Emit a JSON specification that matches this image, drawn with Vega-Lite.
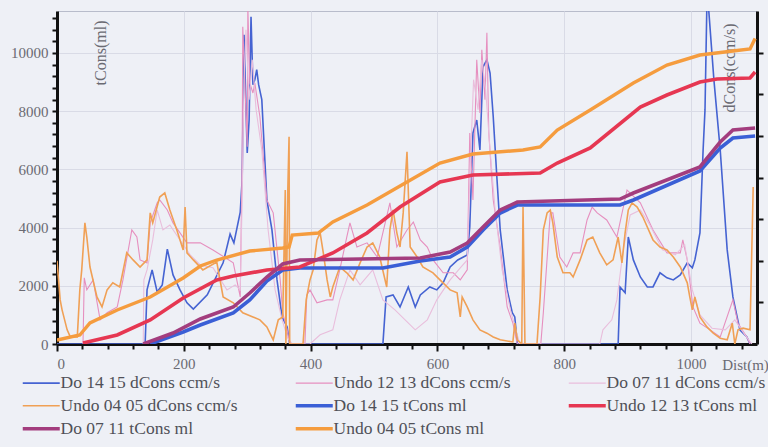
{
"$schema":"https://vega.github.io/schema/vega-lite/v6.json",
"width":700,"height":333,"autosize":"none",
"padding":{"left":57,"top":11,"right":11,"bottom":103},
"background":"#eef0f6",
"config":{"view":{"stroke":"#b8bccb","strokeWidth":1},"font":"Liberation Serif"},
"datasets":{
"d":[
{"s":"Do 14 15 dCons ccm/s","x":0,"v":0},{"s":"Do 14 15 dCons ccm/s","x":139,"v":0},{"s":"Do 14 15 dCons ccm/s","x":142,"v":1.30},{"s":"Do 14 15 dCons ccm/s","x":150,"v":1.78},{"s":"Do 14 15 dCons ccm/s","x":158,"v":1.25},{"s":"Do 14 15 dCons ccm/s","x":166,"v":1.42},{"s":"Do 14 15 dCons ccm/s","x":174,"v":2.28},{"s":"Do 14 15 dCons ccm/s","x":183,"v":1.66},{"s":"Do 14 15 dCons ccm/s","x":194,"v":1.30},{"s":"Do 14 15 dCons ccm/s","x":205,"v":0.99},{"s":"Do 14 15 dCons ccm/s","x":215,"v":0.84},{"s":"Do 14 15 dCons ccm/s","x":237,"v":1.18},{"s":"Do 14 15 dCons ccm/s","x":262,"v":1.95},{"s":"Do 14 15 dCons ccm/s","x":273,"v":2.64},{"s":"Do 14 15 dCons ccm/s","x":279,"v":2.43},{"s":"Do 14 15 dCons ccm/s","x":289,"v":3.17},{"s":"Do 14 15 dCons ccm/s","x":292,"v":3.94},{"s":"Do 14 15 dCons ccm/s","x":295,"v":7.43},{"s":"Do 14 15 dCons ccm/s","x":300,"v":4.59},{"s":"Do 14 15 dCons ccm/s","x":303,"v":5.38},{"s":"Do 14 15 dCons ccm/s","x":306,"v":7.86},{"s":"Do 14 15 dCons ccm/s","x":309,"v":6.23},{"s":"Do 14 15 dCons ccm/s","x":312,"v":6.35},{"s":"Do 14 15 dCons ccm/s","x":315,"v":6.59},{"s":"Do 14 15 dCons ccm/s","x":318,"v":6.23},{"s":"Do 14 15 dCons ccm/s","x":323,"v":5.87},{"s":"Do 14 15 dCons ccm/s","x":331,"v":3.46},{"s":"Do 14 15 dCons ccm/s","x":339,"v":2.74},{"s":"Do 14 15 dCons ccm/s","x":347,"v":1.54},{"s":"Do 14 15 dCons ccm/s","x":355,"v":0.65},{"s":"Do 14 15 dCons ccm/s","x":363,"v":0.41},{"s":"Do 14 15 dCons ccm/s","x":367,"v":0},{"s":"Do 14 15 dCons ccm/s","x":514,"v":0},{"s":"Do 14 15 dCons ccm/s","x":519,"v":1.13},{"s":"Do 14 15 dCons ccm/s","x":530,"v":1.18},{"s":"Do 14 15 dCons ccm/s","x":541,"v":0.89},{"s":"Do 14 15 dCons ccm/s","x":554,"v":1.37},{"s":"Do 14 15 dCons ccm/s","x":565,"v":0.89},{"s":"Do 14 15 dCons ccm/s","x":573,"v":1.18},{"s":"Do 14 15 dCons ccm/s","x":588,"v":1.37},{"s":"Do 14 15 dCons ccm/s","x":599,"v":1.30},{"s":"Do 14 15 dCons ccm/s","x":609,"v":1.47},{"s":"Do 14 15 dCons ccm/s","x":620,"v":1.85},{"s":"Do 14 15 dCons ccm/s","x":632,"v":2.02},{"s":"Do 14 15 dCons ccm/s","x":647,"v":2.14},{"s":"Do 14 15 dCons ccm/s","x":651,"v":2.81},{"s":"Do 14 15 dCons ccm/s","x":656,"v":5.07},{"s":"Do 14 15 dCons ccm/s","x":662,"v":5.38},{"s":"Do 14 15 dCons ccm/s","x":667,"v":4.66},{"s":"Do 14 15 dCons ccm/s","x":672,"v":6.66},{"s":"Do 14 15 dCons ccm/s","x":678,"v":6.83},{"s":"Do 14 15 dCons ccm/s","x":683,"v":6.51},{"s":"Do 14 15 dCons ccm/s","x":688,"v":5.46},{"s":"Do 14 15 dCons ccm/s","x":694,"v":3.94},{"s":"Do 14 15 dCons ccm/s","x":699,"v":2.74},{"s":"Do 14 15 dCons ccm/s","x":710,"v":1.30},{"s":"Do 14 15 dCons ccm/s","x":718,"v":0.75},{"s":"Do 14 15 dCons ccm/s","x":722,"v":0.65},{"s":"Do 14 15 dCons ccm/s","x":726,"v":0},{"s":"Do 14 15 dCons ccm/s","x":885,"v":0},{"s":"Do 14 15 dCons ccm/s","x":888,"v":1.37},{"s":"Do 14 15 dCons ccm/s","x":896,"v":1.23},{"s":"Do 14 15 dCons ccm/s","x":901,"v":2.57},{"s":"Do 14 15 dCons ccm/s","x":909,"v":2.02},{"s":"Do 14 15 dCons ccm/s","x":920,"v":1.61},{"s":"Do 14 15 dCons ccm/s","x":931,"v":1.37},{"s":"Do 14 15 dCons ccm/s","x":940,"v":1.37},{"s":"Do 14 15 dCons ccm/s","x":951,"v":1.71},{"s":"Do 14 15 dCons ccm/s","x":962,"v":1.59},{"s":"Do 14 15 dCons ccm/s","x":972,"v":1.54},{"s":"Do 14 15 dCons ccm/s","x":983,"v":1.66},{"s":"Do 14 15 dCons ccm/s","x":994,"v":1.95},{"s":"Do 14 15 dCons ccm/s","x":1002,"v":1.83},{"s":"Do 14 15 dCons ccm/s","x":1006,"v":2.02},{"s":"Do 14 15 dCons ccm/s","x":1014,"v":2.67},{"s":"Do 14 15 dCons ccm/s","x":1019,"v":4.66},{"s":"Do 14 15 dCons ccm/s","x":1022,"v":5.63},{"s":"Do 14 15 dCons ccm/s","x":1025,"v":8.2},{"s":"Do 14 15 dCons ccm/s","x":1027,"v":8.2},{"s":"Do 14 15 dCons ccm/s","x":1036,"v":6.35},{"s":"Do 14 15 dCons ccm/s","x":1046,"v":4.66},{"s":"Do 14 15 dCons ccm/s","x":1057,"v":2.26},{"s":"Do 14 15 dCons ccm/s","x":1066,"v":1.13},{"s":"Do 14 15 dCons ccm/s","x":1077,"v":0.34},{"s":"Do 14 15 dCons ccm/s","x":1088,"v":0.17},{"s":"Do 14 15 dCons ccm/s","x":1093,"v":0},

{"s":"Undo 12 13 dCons ccm/s","x":41,"v":0},{"s":"Undo 12 13 dCons ccm/s","x":43,"v":1.59},{"s":"Undo 12 13 dCons ccm/s","x":47,"v":1.30},{"s":"Undo 12 13 dCons ccm/s","x":57,"v":1.54},{"s":"Undo 12 13 dCons ccm/s","x":68,"v":0.58},{"s":"Undo 12 13 dCons ccm/s","x":79,"v":0.75},{"s":"Undo 12 13 dCons ccm/s","x":95,"v":0.89},{"s":"Undo 12 13 dCons ccm/s","x":104,"v":1.54},{"s":"Undo 12 13 dCons ccm/s","x":118,"v":2.74},{"s":"Undo 12 13 dCons ccm/s","x":126,"v":2.57},{"s":"Undo 12 13 dCons ccm/s","x":131,"v":2.02},{"s":"Undo 12 13 dCons ccm/s","x":142,"v":1.95},{"s":"Undo 12 13 dCons ccm/s","x":147,"v":2.91},{"s":"Undo 12 13 dCons ccm/s","x":158,"v":3.39},{"s":"Undo 12 13 dCons ccm/s","x":162,"v":3.46},{"s":"Undo 12 13 dCons ccm/s","x":174,"v":3.22},{"s":"Undo 12 13 dCons ccm/s","x":183,"v":2.91},{"s":"Undo 12 13 dCons ccm/s","x":205,"v":2.43},{"s":"Undo 12 13 dCons ccm/s","x":226,"v":2.43},{"s":"Undo 12 13 dCons ccm/s","x":246,"v":2.26},{"s":"Undo 12 13 dCons ccm/s","x":278,"v":1.95},{"s":"Undo 12 13 dCons ccm/s","x":289,"v":1.13},{"s":"Undo 12 13 dCons ccm/s","x":292,"v":4.42},{"s":"Undo 12 13 dCons ccm/s","x":293,"v":7.62},{"s":"Undo 12 13 dCons ccm/s","x":300,"v":4.74},{"s":"Undo 12 13 dCons ccm/s","x":301,"v":8.1},{"s":"Undo 12 13 dCons ccm/s","x":304,"v":6.27},{"s":"Undo 12 13 dCons ccm/s","x":309,"v":6.03},{"s":"Undo 12 13 dCons ccm/s","x":312,"v":6.27},{"s":"Undo 12 13 dCons ccm/s","x":320,"v":5.46},{"s":"Undo 12 13 dCons ccm/s","x":331,"v":3.46},{"s":"Undo 12 13 dCons ccm/s","x":341,"v":3.15},{"s":"Undo 12 13 dCons ccm/s","x":352,"v":1.54},{"s":"Undo 12 13 dCons ccm/s","x":356,"v":0.75},{"s":"Undo 12 13 dCons ccm/s","x":363,"v":0.34},{"s":"Undo 12 13 dCons ccm/s","x":367,"v":0},{"s":"Undo 12 13 dCons ccm/s","x":391,"v":0},{"s":"Undo 12 13 dCons ccm/s","x":394,"v":1.18},{"s":"Undo 12 13 dCons ccm/s","x":399,"v":1.30},{"s":"Undo 12 13 dCons ccm/s","x":410,"v":0.99},{"s":"Undo 12 13 dCons ccm/s","x":426,"v":1.06},{"s":"Undo 12 13 dCons ccm/s","x":435,"v":1.06},{"s":"Undo 12 13 dCons ccm/s","x":446,"v":1.78},{"s":"Undo 12 13 dCons ccm/s","x":457,"v":2.57},{"s":"Undo 12 13 dCons ccm/s","x":462,"v":2.91},{"s":"Undo 12 13 dCons ccm/s","x":473,"v":2.33},{"s":"Undo 12 13 dCons ccm/s","x":489,"v":2.43},{"s":"Undo 12 13 dCons ccm/s","x":505,"v":2.09},{"s":"Undo 12 13 dCons ccm/s","x":525,"v":3.39},{"s":"Undo 12 13 dCons ccm/s","x":536,"v":2.33},{"s":"Undo 12 13 dCons ccm/s","x":552,"v":2.74},{"s":"Undo 12 13 dCons ccm/s","x":562,"v":2.93},{"s":"Undo 12 13 dCons ccm/s","x":573,"v":2.50},{"s":"Undo 12 13 dCons ccm/s","x":584,"v":2.33},{"s":"Undo 12 13 dCons ccm/s","x":593,"v":2.02},{"s":"Undo 12 13 dCons ccm/s","x":609,"v":1.71},{"s":"Undo 12 13 dCons ccm/s","x":625,"v":1.71},{"s":"Undo 12 13 dCons ccm/s","x":636,"v":1.54},{"s":"Undo 12 13 dCons ccm/s","x":647,"v":1.78},{"s":"Undo 12 13 dCons ccm/s","x":651,"v":5.07},{"s":"Undo 12 13 dCons ccm/s","x":656,"v":3.46},{"s":"Undo 12 13 dCons ccm/s","x":662,"v":6.83},{"s":"Undo 12 13 dCons ccm/s","x":667,"v":5.55},{"s":"Undo 12 13 dCons ccm/s","x":670,"v":7.07},{"s":"Undo 12 13 dCons ccm/s","x":675,"v":5.87},{"s":"Undo 12 13 dCons ccm/s","x":678,"v":7.48},{"s":"Undo 12 13 dCons ccm/s","x":681,"v":5.07},{"s":"Undo 12 13 dCons ccm/s","x":688,"v":3.46},{"s":"Undo 12 13 dCons ccm/s","x":699,"v":2.33},{"s":"Undo 12 13 dCons ccm/s","x":710,"v":0.89},{"s":"Undo 12 13 dCons ccm/s","x":719,"v":0.50},{"s":"Undo 12 13 dCons ccm/s","x":726,"v":0},{"s":"Undo 12 13 dCons ccm/s","x":763,"v":0},{"s":"Undo 12 13 dCons ccm/s","x":767,"v":0.75},{"s":"Undo 12 13 dCons ccm/s","x":778,"v":3.15},{"s":"Undo 12 13 dCons ccm/s","x":782,"v":3.15},{"s":"Undo 12 13 dCons ccm/s","x":793,"v":2.09},{"s":"Undo 12 13 dCons ccm/s","x":804,"v":1.85},{"s":"Undo 12 13 dCons ccm/s","x":814,"v":2.19},{"s":"Undo 12 13 dCons ccm/s","x":825,"v":2.19},{"s":"Undo 12 13 dCons ccm/s","x":836,"v":2.98},{"s":"Undo 12 13 dCons ccm/s","x":844,"v":3.29},{"s":"Undo 12 13 dCons ccm/s","x":852,"v":3.15},{"s":"Undo 12 13 dCons ccm/s","x":867,"v":2.98},{"s":"Undo 12 13 dCons ccm/s","x":883,"v":2.57},{"s":"Undo 12 13 dCons ccm/s","x":899,"v":3.70},{"s":"Undo 12 13 dCons ccm/s","x":920,"v":3.39},{"s":"Undo 12 13 dCons ccm/s","x":940,"v":2.74},{"s":"Undo 12 13 dCons ccm/s","x":962,"v":2.19},{"s":"Undo 12 13 dCons ccm/s","x":983,"v":2.19},{"s":"Undo 12 13 dCons ccm/s","x":987,"v":2.50},{"s":"Undo 12 13 dCons ccm/s","x":994,"v":2.02},{"s":"Undo 12 13 dCons ccm/s","x":1003,"v":0.89},{"s":"Undo 12 13 dCons ccm/s","x":1014,"v":0.50},{"s":"Undo 12 13 dCons ccm/s","x":1030,"v":0.34},{"s":"Undo 12 13 dCons ccm/s","x":1046,"v":0.17},{"s":"Undo 12 13 dCons ccm/s","x":1066,"v":1.06},{"s":"Undo 12 13 dCons ccm/s","x":1074,"v":0.50},{"s":"Undo 12 13 dCons ccm/s","x":1088,"v":0.17},{"s":"Undo 12 13 dCons ccm/s","x":1093,"v":0},

{"s":"Do 07 11 dCons ccm/s","x":136,"v":0},{"s":"Do 07 11 dCons ccm/s","x":137,"v":1.54},{"s":"Do 07 11 dCons ccm/s","x":142,"v":1.78},{"s":"Do 07 11 dCons ccm/s","x":151,"v":2.50},{"s":"Do 07 11 dCons ccm/s","x":158,"v":3.22},{"s":"Do 07 11 dCons ccm/s","x":167,"v":2.74},{"s":"Do 07 11 dCons ccm/s","x":178,"v":2.86},{"s":"Do 07 11 dCons ccm/s","x":194,"v":2.50},{"s":"Do 07 11 dCons ccm/s","x":210,"v":2.14},{"s":"Do 07 11 dCons ccm/s","x":226,"v":1.90},{"s":"Do 07 11 dCons ccm/s","x":246,"v":1.83},{"s":"Do 07 11 dCons ccm/s","x":268,"v":1.30},{"s":"Do 07 11 dCons ccm/s","x":281,"v":1.42},{"s":"Do 07 11 dCons ccm/s","x":289,"v":1.30},{"s":"Do 07 11 dCons ccm/s","x":292,"v":3.46},{"s":"Do 07 11 dCons ccm/s","x":295,"v":6.35},{"s":"Do 07 11 dCons ccm/s","x":298,"v":7.55},{"s":"Do 07 11 dCons ccm/s","x":303,"v":5.87},{"s":"Do 07 11 dCons ccm/s","x":308,"v":6.83},{"s":"Do 07 11 dCons ccm/s","x":314,"v":5.63},{"s":"Do 07 11 dCons ccm/s","x":323,"v":4.66},{"s":"Do 07 11 dCons ccm/s","x":333,"v":2.74},{"s":"Do 07 11 dCons ccm/s","x":344,"v":1.30},{"s":"Do 07 11 dCons ccm/s","x":355,"v":0.58},{"s":"Do 07 11 dCons ccm/s","x":364,"v":0.14},{"s":"Do 07 11 dCons ccm/s","x":371,"v":0},{"s":"Do 07 11 dCons ccm/s","x":399,"v":0},{"s":"Do 07 11 dCons ccm/s","x":415,"v":0.22},{"s":"Do 07 11 dCons ccm/s","x":435,"v":0.34},{"s":"Do 07 11 dCons ccm/s","x":446,"v":1.06},{"s":"Do 07 11 dCons ccm/s","x":462,"v":1.78},{"s":"Do 07 11 dCons ccm/s","x":478,"v":1.42},{"s":"Do 07 11 dCons ccm/s","x":498,"v":1.78},{"s":"Do 07 11 dCons ccm/s","x":514,"v":1.06},{"s":"Do 07 11 dCons ccm/s","x":533,"v":0.82},{"s":"Do 07 11 dCons ccm/s","x":549,"v":0.58},{"s":"Do 07 11 dCons ccm/s","x":565,"v":0.34},{"s":"Do 07 11 dCons ccm/s","x":584,"v":0.58},{"s":"Do 07 11 dCons ccm/s","x":599,"v":1.06},{"s":"Do 07 11 dCons ccm/s","x":620,"v":1.54},{"s":"Do 07 11 dCons ccm/s","x":636,"v":1.83},{"s":"Do 07 11 dCons ccm/s","x":647,"v":2.02},{"s":"Do 07 11 dCons ccm/s","x":651,"v":3.94},{"s":"Do 07 11 dCons ccm/s","x":657,"v":6.35},{"s":"Do 07 11 dCons ccm/s","x":664,"v":5.63},{"s":"Do 07 11 dCons ccm/s","x":670,"v":6.83},{"s":"Do 07 11 dCons ccm/s","x":676,"v":6.11},{"s":"Do 07 11 dCons ccm/s","x":683,"v":4.66},{"s":"Do 07 11 dCons ccm/s","x":691,"v":3.22},{"s":"Do 07 11 dCons ccm/s","x":702,"v":1.78},{"s":"Do 07 11 dCons ccm/s","x":715,"v":0.82},{"s":"Do 07 11 dCons ccm/s","x":726,"v":0.22},{"s":"Do 07 11 dCons ccm/s","x":730,"v":0},{"s":"Do 07 11 dCons ccm/s","x":856,"v":0},{"s":"Do 07 11 dCons ccm/s","x":861,"v":0.34},{"s":"Do 07 11 dCons ccm/s","x":875,"v":0.58},{"s":"Do 07 11 dCons ccm/s","x":883,"v":1.06},{"s":"Do 07 11 dCons ccm/s","x":893,"v":2.26},{"s":"Do 07 11 dCons ccm/s","x":904,"v":3.10},{"s":"Do 07 11 dCons ccm/s","x":920,"v":3.22},{"s":"Do 07 11 dCons ccm/s","x":935,"v":2.86},{"s":"Do 07 11 dCons ccm/s","x":955,"v":2.26},{"s":"Do 07 11 dCons ccm/s","x":975,"v":2.14},{"s":"Do 07 11 dCons ccm/s","x":990,"v":2.38},{"s":"Do 07 11 dCons ccm/s","x":1002,"v":1.30},{"s":"Do 07 11 dCons ccm/s","x":1014,"v":0.70},{"s":"Do 07 11 dCons ccm/s","x":1033,"v":0.38},{"s":"Do 07 11 dCons ccm/s","x":1054,"v":0.34},{"s":"Do 07 11 dCons ccm/s","x":1069,"v":0.58},{"s":"Do 07 11 dCons ccm/s","x":1085,"v":0.22},{"s":"Do 07 11 dCons ccm/s","x":1096,"v":0},

{"s":"Undo 04 05 dCons ccm/s","x":0,"v":2.0},{"s":"Undo 04 05 dCons ccm/s","x":5,"v":1.06},{"s":"Undo 04 05 dCons ccm/s","x":8,"v":0.82},{"s":"Undo 04 05 dCons ccm/s","x":16,"v":0.34},{"s":"Undo 04 05 dCons ccm/s","x":21,"v":0.17},{"s":"Undo 04 05 dCons ccm/s","x":32,"v":0.17},{"s":"Undo 04 05 dCons ccm/s","x":36,"v":1.30},{"s":"Undo 04 05 dCons ccm/s","x":39,"v":1.78},{"s":"Undo 04 05 dCons ccm/s","x":44,"v":2.91},{"s":"Undo 04 05 dCons ccm/s","x":47,"v":2.57},{"s":"Undo 04 05 dCons ccm/s","x":52,"v":1.85},{"s":"Undo 04 05 dCons ccm/s","x":63,"v":1.13},{"s":"Undo 04 05 dCons ccm/s","x":71,"v":0.89},{"s":"Undo 04 05 dCons ccm/s","x":79,"v":1.30},{"s":"Undo 04 05 dCons ccm/s","x":88,"v":1.47},{"s":"Undo 04 05 dCons ccm/s","x":99,"v":1.37},{"s":"Undo 04 05 dCons ccm/s","x":110,"v":2.19},{"s":"Undo 04 05 dCons ccm/s","x":120,"v":2.02},{"s":"Undo 04 05 dCons ccm/s","x":131,"v":1.85},{"s":"Undo 04 05 dCons ccm/s","x":142,"v":2.02},{"s":"Undo 04 05 dCons ccm/s","x":147,"v":3.15},{"s":"Undo 04 05 dCons ccm/s","x":151,"v":2.91},{"s":"Undo 04 05 dCons ccm/s","x":162,"v":3.53},{"s":"Undo 04 05 dCons ccm/s","x":170,"v":3.63},{"s":"Undo 04 05 dCons ccm/s","x":178,"v":3.22},{"s":"Undo 04 05 dCons ccm/s","x":189,"v":2.74},{"s":"Undo 04 05 dCons ccm/s","x":199,"v":2.26},{"s":"Undo 04 05 dCons ccm/s","x":202,"v":3.29},{"s":"Undo 04 05 dCons ccm/s","x":205,"v":2.19},{"s":"Undo 04 05 dCons ccm/s","x":215,"v":2.02},{"s":"Undo 04 05 dCons ccm/s","x":230,"v":1.78},{"s":"Undo 04 05 dCons ccm/s","x":252,"v":1.97},{"s":"Undo 04 05 dCons ccm/s","x":262,"v":1.13},{"s":"Undo 04 05 dCons ccm/s","x":278,"v":0.99},{"s":"Undo 04 05 dCons ccm/s","x":293,"v":0.75},{"s":"Undo 04 05 dCons ccm/s","x":309,"v":0.65},{"s":"Undo 04 05 dCons ccm/s","x":320,"v":0.58},{"s":"Undo 04 05 dCons ccm/s","x":331,"v":0.41},{"s":"Undo 04 05 dCons ccm/s","x":341,"v":0.10},{"s":"Undo 04 05 dCons ccm/s","x":349,"v":0.58},{"s":"Undo 04 05 dCons ccm/s","x":356,"v":0.65},{"s":"Undo 04 05 dCons ccm/s","x":360,"v":3.70},{"s":"Undo 04 05 dCons ccm/s","x":361,"v":0},{"s":"Undo 04 05 dCons ccm/s","x":364,"v":3.70},{"s":"Undo 04 05 dCons ccm/s","x":366,"v":4.98},{"s":"Undo 04 05 dCons ccm/s","x":367,"v":0},{"s":"Undo 04 05 dCons ccm/s","x":388,"v":0},{"s":"Undo 04 05 dCons ccm/s","x":393,"v":1.06},{"s":"Undo 04 05 dCons ccm/s","x":399,"v":1.54},{"s":"Undo 04 05 dCons ccm/s","x":404,"v":1.78},{"s":"Undo 04 05 dCons ccm/s","x":410,"v":2.50},{"s":"Undo 04 05 dCons ccm/s","x":415,"v":2.67},{"s":"Undo 04 05 dCons ccm/s","x":420,"v":2.19},{"s":"Undo 04 05 dCons ccm/s","x":426,"v":1.54},{"s":"Undo 04 05 dCons ccm/s","x":431,"v":1.13},{"s":"Undo 04 05 dCons ccm/s","x":435,"v":1.37},{"s":"Undo 04 05 dCons ccm/s","x":446,"v":1.85},{"s":"Undo 04 05 dCons ccm/s","x":457,"v":1.71},{"s":"Undo 04 05 dCons ccm/s","x":467,"v":1.54},{"s":"Undo 04 05 dCons ccm/s","x":478,"v":1.95},{"s":"Undo 04 05 dCons ccm/s","x":489,"v":2.33},{"s":"Undo 04 05 dCons ccm/s","x":498,"v":2.43},{"s":"Undo 04 05 dCons ccm/s","x":509,"v":2.09},{"s":"Undo 04 05 dCons ccm/s","x":520,"v":1.37},{"s":"Undo 04 05 dCons ccm/s","x":525,"v":2.74},{"s":"Undo 04 05 dCons ccm/s","x":530,"v":3.22},{"s":"Undo 04 05 dCons ccm/s","x":536,"v":2.67},{"s":"Undo 04 05 dCons ccm/s","x":541,"v":2.33},{"s":"Undo 04 05 dCons ccm/s","x":546,"v":3.15},{"s":"Undo 04 05 dCons ccm/s","x":552,"v":4.62},{"s":"Undo 04 05 dCons ccm/s","x":557,"v":2.33},{"s":"Undo 04 05 dCons ccm/s","x":568,"v":2.09},{"s":"Undo 04 05 dCons ccm/s","x":577,"v":1.85},{"s":"Undo 04 05 dCons ccm/s","x":593,"v":1.71},{"s":"Undo 04 05 dCons ccm/s","x":604,"v":1.54},{"s":"Undo 04 05 dCons ccm/s","x":620,"v":1.30},{"s":"Undo 04 05 dCons ccm/s","x":631,"v":1.23},{"s":"Undo 04 05 dCons ccm/s","x":636,"v":0.65},{"s":"Undo 04 05 dCons ccm/s","x":639,"v":1.13},{"s":"Undo 04 05 dCons ccm/s","x":647,"v":0.89},{"s":"Undo 04 05 dCons ccm/s","x":656,"v":0.58},{"s":"Undo 04 05 dCons ccm/s","x":667,"v":0.34},{"s":"Undo 04 05 dCons ccm/s","x":678,"v":0.26},{"s":"Undo 04 05 dCons ccm/s","x":688,"v":0.17},{"s":"Undo 04 05 dCons ccm/s","x":699,"v":0.10},{"s":"Undo 04 05 dCons ccm/s","x":719,"v":0.05},{"s":"Undo 04 05 dCons ccm/s","x":722,"v":0.50},{"s":"Undo 04 05 dCons ccm/s","x":726,"v":0.10},{"s":"Undo 04 05 dCons ccm/s","x":733,"v":0},{"s":"Undo 04 05 dCons ccm/s","x":735,"v":3.29},{"s":"Undo 04 05 dCons ccm/s","x":738,"v":0},{"s":"Undo 04 05 dCons ccm/s","x":757,"v":0},{"s":"Undo 04 05 dCons ccm/s","x":762,"v":1.13},{"s":"Undo 04 05 dCons ccm/s","x":767,"v":2.74},{"s":"Undo 04 05 dCons ccm/s","x":773,"v":3.15},{"s":"Undo 04 05 dCons ccm/s","x":778,"v":3.22},{"s":"Undo 04 05 dCons ccm/s","x":782,"v":2.91},{"s":"Undo 04 05 dCons ccm/s","x":789,"v":2.09},{"s":"Undo 04 05 dCons ccm/s","x":798,"v":1.71},{"s":"Undo 04 05 dCons ccm/s","x":809,"v":1.71},{"s":"Undo 04 05 dCons ccm/s","x":814,"v":1.61},{"s":"Undo 04 05 dCons ccm/s","x":825,"v":2.02},{"s":"Undo 04 05 dCons ccm/s","x":836,"v":2.50},{"s":"Undo 04 05 dCons ccm/s","x":845,"v":2.57},{"s":"Undo 04 05 dCons ccm/s","x":856,"v":2.19},{"s":"Undo 04 05 dCons ccm/s","x":867,"v":1.90},{"s":"Undo 04 05 dCons ccm/s","x":877,"v":2.02},{"s":"Undo 04 05 dCons ccm/s","x":885,"v":2.57},{"s":"Undo 04 05 dCons ccm/s","x":891,"v":1.95},{"s":"Undo 04 05 dCons ccm/s","x":896,"v":2.67},{"s":"Undo 04 05 dCons ccm/s","x":901,"v":3.22},{"s":"Undo 04 05 dCons ccm/s","x":907,"v":3.39},{"s":"Undo 04 05 dCons ccm/s","x":915,"v":3.29},{"s":"Undo 04 05 dCons ccm/s","x":924,"v":3.05},{"s":"Undo 04 05 dCons ccm/s","x":940,"v":2.50},{"s":"Undo 04 05 dCons ccm/s","x":951,"v":2.33},{"s":"Undo 04 05 dCons ccm/s","x":962,"v":2.26},{"s":"Undo 04 05 dCons ccm/s","x":972,"v":2.09},{"s":"Undo 04 05 dCons ccm/s","x":983,"v":1.85},{"s":"Undo 04 05 dCons ccm/s","x":994,"v":1.47},{"s":"Undo 04 05 dCons ccm/s","x":998,"v":1.13},{"s":"Undo 04 05 dCons ccm/s","x":1002,"v":0.82},{"s":"Undo 04 05 dCons ccm/s","x":1006,"v":1.13},{"s":"Undo 04 05 dCons ccm/s","x":1014,"v":0.65},{"s":"Undo 04 05 dCons ccm/s","x":1025,"v":0.41},{"s":"Undo 04 05 dCons ccm/s","x":1035,"v":0.26},{"s":"Undo 04 05 dCons ccm/s","x":1046,"v":0.14},{"s":"Undo 04 05 dCons ccm/s","x":1057,"v":0.10},{"s":"Undo 04 05 dCons ccm/s","x":1065,"v":0.50},{"s":"Undo 04 05 dCons ccm/s","x":1069,"v":0},{"s":"Undo 04 05 dCons ccm/s","x":1074,"v":0.34},{"s":"Undo 04 05 dCons ccm/s","x":1082,"v":0.38},{"s":"Undo 04 05 dCons ccm/s","x":1093,"v":0.34},{"s":"Undo 04 05 dCons ccm/s","x":1098,"v":3.77}
],
"t":[
{"s":"Do 14 15 tCons ml","x":147,"v":0},{"s":"Do 14 15 tCons ml","x":199,"v":412},{"s":"Do 14 15 tCons ml","x":226,"v":653},{"s":"Do 14 15 tCons ml","x":278,"v":1065},{"s":"Do 14 15 tCons ml","x":304,"v":1512},{"s":"Do 14 15 tCons ml","x":331,"v":2165},{"s":"Do 14 15 tCons ml","x":356,"v":2543},{"s":"Do 14 15 tCons ml","x":383,"v":2611},{"s":"Do 14 15 tCons ml","x":514,"v":2611},{"s":"Do 14 15 tCons ml","x":573,"v":2852},{"s":"Do 14 15 tCons ml","x":620,"v":2989},{"s":"Do 14 15 tCons ml","x":647,"v":3333},{"s":"Do 14 15 tCons ml","x":672,"v":3917},{"s":"Do 14 15 tCons ml","x":699,"v":4501},{"s":"Do 14 15 tCons ml","x":726,"v":4776},{"s":"Do 14 15 tCons ml","x":888,"v":4776},{"s":"Do 14 15 tCons ml","x":909,"v":4948},{"s":"Do 14 15 tCons ml","x":1014,"v":5944},{"s":"Do 14 15 tCons ml","x":1046,"v":6735},{"s":"Do 14 15 tCons ml","x":1066,"v":7078},{"s":"Do 14 15 tCons ml","x":1101,"v":7147},
{"s":"Undo 12 13 tCons ml","x":41,"v":34},{"s":"Undo 12 13 tCons ml","x":95,"v":309},{"s":"Undo 12 13 tCons ml","x":147,"v":825},{"s":"Undo 12 13 tCons ml","x":199,"v":1581},{"s":"Undo 12 13 tCons ml","x":252,"v":2199},{"s":"Undo 12 13 tCons ml","x":278,"v":2336},{"s":"Undo 12 13 tCons ml","x":331,"v":2543},{"s":"Undo 12 13 tCons ml","x":383,"v":2646},{"s":"Undo 12 13 tCons ml","x":435,"v":3127},{"s":"Undo 12 13 tCons ml","x":489,"v":3814},{"s":"Undo 12 13 tCons ml","x":541,"v":4707},{"s":"Undo 12 13 tCons ml","x":604,"v":5566},{"s":"Undo 12 13 tCons ml","x":656,"v":5807},{"s":"Undo 12 13 tCons ml","x":762,"v":5876},{"s":"Undo 12 13 tCons ml","x":789,"v":6219},{"s":"Undo 12 13 tCons ml","x":841,"v":6735},{"s":"Undo 12 13 tCons ml","x":920,"v":8143},{"s":"Undo 12 13 tCons ml","x":962,"v":8556},{"s":"Undo 12 13 tCons ml","x":1014,"v":9002},{"s":"Undo 12 13 tCons ml","x":1041,"v":9105},{"s":"Undo 12 13 tCons ml","x":1093,"v":9140},{"s":"Undo 12 13 tCons ml","x":1101,"v":9346},
{"s":"Do 07 11 tCons ml","x":136,"v":0},{"s":"Do 07 11 tCons ml","x":183,"v":378},{"s":"Do 07 11 tCons ml","x":226,"v":859},{"s":"Do 07 11 tCons ml","x":278,"v":1271},{"s":"Do 07 11 tCons ml","x":304,"v":1752},{"s":"Do 07 11 tCons ml","x":331,"v":2302},{"s":"Do 07 11 tCons ml","x":356,"v":2749},{"s":"Do 07 11 tCons ml","x":383,"v":2886},{"s":"Do 07 11 tCons ml","x":573,"v":2955},{"s":"Do 07 11 tCons ml","x":620,"v":3161},{"s":"Do 07 11 tCons ml","x":647,"v":3470},{"s":"Do 07 11 tCons ml","x":672,"v":4020},{"s":"Do 07 11 tCons ml","x":699,"v":4604},{"s":"Do 07 11 tCons ml","x":726,"v":4879},{"s":"Do 07 11 tCons ml","x":888,"v":4982},{"s":"Do 07 11 tCons ml","x":909,"v":5188},{"s":"Do 07 11 tCons ml","x":1014,"v":6082},{"s":"Do 07 11 tCons ml","x":1046,"v":6941},{"s":"Do 07 11 tCons ml","x":1066,"v":7353},{"s":"Do 07 11 tCons ml","x":1101,"v":7422},
{"s":"Undo 04 05 tCons ml","x":0,"v":137},{"s":"Undo 04 05 tCons ml","x":36,"v":309},{"s":"Undo 04 05 tCons ml","x":52,"v":722},{"s":"Undo 04 05 tCons ml","x":95,"v":1168},{"s":"Undo 04 05 tCons ml","x":147,"v":1615},{"s":"Undo 04 05 tCons ml","x":199,"v":2268},{"s":"Undo 04 05 tCons ml","x":226,"v":2680},{"s":"Undo 04 05 tCons ml","x":252,"v":2886},{"s":"Undo 04 05 tCons ml","x":304,"v":3195},{"s":"Undo 04 05 tCons ml","x":356,"v":3299},{"s":"Undo 04 05 tCons ml","x":366,"v":3333},{"s":"Undo 04 05 tCons ml","x":371,"v":3745},{"s":"Undo 04 05 tCons ml","x":412,"v":3814},{"s":"Undo 04 05 tCons ml","x":435,"v":4192},{"s":"Undo 04 05 tCons ml","x":489,"v":4776},{"s":"Undo 04 05 tCons ml","x":552,"v":5566},{"s":"Undo 04 05 tCons ml","x":604,"v":6219},{"s":"Undo 04 05 tCons ml","x":656,"v":6528},{"s":"Undo 04 05 tCons ml","x":735,"v":6666},{"s":"Undo 04 05 tCons ml","x":762,"v":6769},{"s":"Undo 04 05 tCons ml","x":789,"v":7353},{"s":"Undo 04 05 tCons ml","x":841,"v":8040},{"s":"Undo 04 05 tCons ml","x":909,"v":8968},{"s":"Undo 04 05 tCons ml","x":962,"v":9586},{"s":"Undo 04 05 tCons ml","x":1014,"v":9930},{"s":"Undo 04 05 tCons ml","x":1066,"v":10067},{"s":"Undo 04 05 tCons ml","x":1093,"v":10136},{"s":"Undo 04 05 tCons ml","x":1101,"v":10500}
]},
"encoding":{
"x":{"field":"x","type":"quantitative","scale":{"domain":[0,1104],"nice":false,"zero":false},
"axis":{"values":[0,40,80,120,160,200,240,280,320,360,400,440,480,520,560,600,640,680,720,760,800,840,880,920,960,1000,1040,1080],
"labelExpr":"datum.value % 200 === 0 ? datum.label : ''","format":"d","labelFont":"Liberation Serif","labelFontSize":15,"labelColor":"#6a6a72","labelPadding":5,
"domainColor":"#111","domainWidth":3,"tickColor":"#111","tickWidth":2,
"tickSize":{"condition":{"test":"datum.value % 200 === 0","value":7},"value":5},
"grid":true,"gridColor":"#d9dbe6","gridOpacity":{"condition":{"test":"datum.value % 200 === 0","value":1},"value":0},
"title":"Dist(m)","titleFont":"Liberation Serif","titleFontSize":15,"titleFontWeight":"normal","titleColor":"#6a6a72",
"titleX":688,"titleY":20,"titleAlign":"center","titleBaseline":"middle","titleAnchor":null}},
"color":{"field":"s","type":"ordinal","scale":{"domain":["Do 14 15 dCons ccm/s","Undo 12 13 dCons ccm/s","Do 07 11 dCons ccm/s","Undo 04 05 dCons ccm/s","Do 14 15 tCons ml","Undo 12 13 tCons ml","Do 07 11 tCons ml","Undo 04 05 tCons ml"],
"range":["#4563d2","#e68fbf","#e9bedc","#f0a055","#3a5fd6","#e63752","#a33d7e","#f59c3e"]},
"legend":{"title":null,"orient":"none","legendX":-35,"legendY":363,"columns":3,"direction":"horizontal","padding":0,"columnPadding":50,"rowPadding":4,
"symbolType":"M-1.6,0H5.8","symbolSize":100,"labelOffset":21,"labelFont":"Liberation Serif","labelFontSize":17.5,"labelColor":"#505058","labelLimit":300}},
"strokeWidth":{"field":"s","type":"ordinal","scale":{"type":"ordinal","domain":["Do 14 15 dCons ccm/s","Undo 12 13 dCons ccm/s","Do 07 11 dCons ccm/s","Undo 04 05 dCons ccm/s","Do 14 15 tCons ml","Undo 12 13 tCons ml","Do 07 11 tCons ml","Undo 04 05 tCons ml"],
"range":[1.6,1.1,1.1,1.6,3.6,3.6,3.6,3.4]}}
},
"layer":[
{"data":{"name":"d"},"mark":{"type":"line","clip":true},
"encoding":{"y":{"field":"v","type":"quantitative","scale":{"domain":[0,8],"nice":false},
"axis":{"orient":"right","values":[1,2,3,4,5,6,7],"labels":false,"grid":false,"domainColor":"#111","domainWidth":3,"tickColor":"#111","tickWidth":2,"tickSize":6,
"title":"dCons(ccm/s)","titleFont":"Liberation Serif","titleFontSize":16,"titleFontWeight":"normal","titleColor":"#6a6a72","titleAngle":-90,"titleX":-28,"titleY":12,"titleAlign":"right","titleBaseline":"middle","titleAnchor":null}}}},
{"data":{"name":"t"},"mark":{"type":"line","clip":true},
"encoding":{"y":{"field":"v","type":"quantitative","scale":{"domain":[0,11443],"nice":false},
"axis":{"orient":"left","values":[0,400,800,1200,1600,2000,2400,2800,3200,3600,4000,4400,4800,5200,5600,6000,6400,6800,7200,7600,8000,8400,8800,9200,9600,10000,10400,10800,11200],
"labelExpr":"datum.value % 2000 === 0 ? datum.label : ''","format":"d","labelFont":"Liberation Serif","labelFontSize":15,"labelColor":"#6a6a72","labelPadding":4,
"domainColor":"#111","domainWidth":3,"tickColor":"#111","tickWidth":2,"tickSize":5,
"grid":true,"gridColor":"#d9dbe6","gridOpacity":{"condition":{"test":"datum.value % 2000 === 0","value":1},"value":0},
"title":"tCons(ml)","titleFont":"Liberation Serif","titleFontSize":16,"titleFontWeight":"normal","titleColor":"#6a6a72","titleAngle":-90,"titleX":43,"titleY":9,"titleAlign":"right","titleBaseline":"middle","titleAnchor":null}}}}
],
"resolve":{"scale":{"y":"independent"}}
}
